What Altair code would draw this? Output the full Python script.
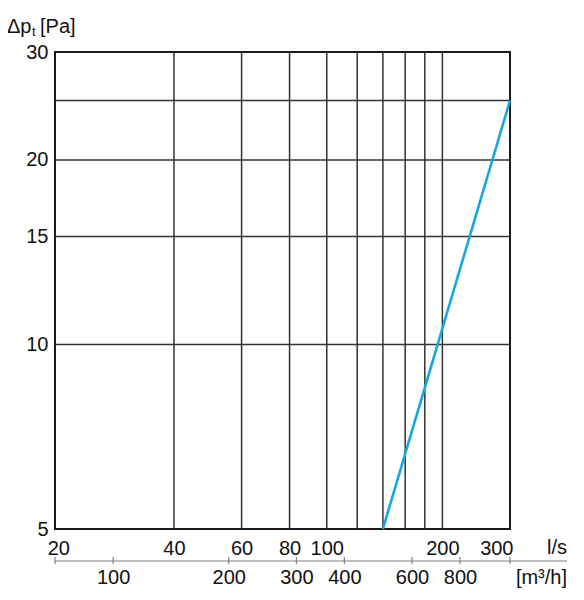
import altair as alt
import pandas as pd

# ---- data ----
ls_labels = [20, 40, 60, 80, 100, 200, 300]          # l/s axis labels
m3h_labels = [100, 200, 300, 400, 600, 800]          # m3/h axis labels
grid_x = [40, 60, 80, 100, 120, 140, 160, 180, 200]  # vertical grid lines (l/s)
grid_y = [10, 15, 20, 25]                            # horizontal grid lines (Pa)
y_labels = [5, 10, 15, 20, 30]                       # Pa axis labels
curve_flow = [140, 300]                              # l/s
curve_dp = [5, 25]                                   # Pa

x_dom = [19.6, 300]
y_dom = [5, 30]
m3h_dom = [x_dom[0] * 3.6, x_dom[1] * 3.6]
m3h_marks = [m3h_dom[0]] + m3h_labels + [m3h_dom[1]]

W, H = 455, 477
FONT = "Liberation Sans Narrow, Arial Narrow, Liberation Sans, sans-serif"
FS = 20
GRID = "#333333"

xs = alt.Scale(type="log", domain=x_dom, nice=False, zero=False)
ys = alt.Scale(type="log", domain=y_dom, nice=False, zero=False)
ms = alt.Scale(type="log", domain=m3h_dom, nice=False, zero=False)

y_axis = alt.Axis(
    values=y_labels, ticks=False, domain=False, grid=False,
    labelPadding=7, labelOverlap=False, labelFontSize=FS, labelFont=FONT,
    labelColor="#111", title=None,
)

vgrid = alt.Chart(pd.DataFrame({"q": grid_x})).mark_rule(
    color=GRID, strokeWidth=1.5
).encode(x=alt.X("q:Q", scale=xs, axis=None))

hgrid = alt.Chart(pd.DataFrame({"dp": grid_y})).mark_rule(
    color=GRID, strokeWidth=1.5
).encode(y=alt.Y("dp:Q", scale=ys, axis=y_axis))

curve = alt.Chart(pd.DataFrame({"flow": curve_flow, "dp": curve_dp})).mark_line(
    color="#17a6e3", strokeWidth=2.6
).encode(
    x=alt.X(
        "flow:Q",
        scale=xs,
        axis=alt.Axis(
            orient="bottom", values=ls_labels, ticks=False, domain=False, grid=False,
            labelFlush=True, labelFlushOffset=3, labelPadding=9, labelOverlap=False,
            labelFontSize=FS, labelFont=FONT, labelColor="#111", title=None,
        ),
    ),
    y=alt.Y("dp:Q", scale=ys, axis=y_axis),
)

m3h_ticks = alt.Chart(pd.DataFrame({"m": m3h_marks})).mark_rule(
    color="#808080", strokeWidth=1.2
).encode(
    x=alt.X(
        "m:Q",
        scale=ms,
        axis=alt.Axis(
            orient="bottom", values=m3h_labels, ticks=False, domain=False, grid=False,
            offset=28, labelPadding=10, labelOverlap=False, labelFlush=False,
            labelFontSize=FS, labelFont=FONT, labelColor="#111", title=None,
        ),
    ),
    y=alt.value(H + 28),
    y2=alt.value(H + 35),
)

m3h_line = alt.Chart(pd.DataFrame({"d": [0]})).mark_rule(
    color="#808080", strokeWidth=1.2
).encode(x=alt.value(0), x2=alt.value(512), y=alt.value(H + 32))


def txt(s, x, y, size=FS, align="left", baseline="alphabetic"):
    return alt.Chart(pd.DataFrame({"s": [s]})).mark_text(
        align=align, baseline=baseline, fontSize=size, font=FONT, color="#111"
    ).encode(text="s:N", x=alt.value(x), y=alt.value(y))


t_ls = txt("l/s", 512, 496, align="right", baseline="middle")
t_m3h = txt("[m³/h]", 512, 526, align="right", baseline="middle")
t_dp = txt("Δp", -48, -19, size=20)
t_sub = txt("t", -23, -16, size=13)
t_pa = txt("[Pa]", -15, -19, size=20)

chart = alt.layer(
    vgrid, hgrid, curve, m3h_ticks, m3h_line, t_ls, t_m3h, t_dp, t_sub, t_pa
).resolve_scale(x="independent").properties(
    width=W,
    height=H,
    autosize=alt.AutoSizeParams(type="none"),
    padding={"left": 47, "top": 44, "right": 66, "bottom": 63},
).configure(
    font=FONT,
    view=alt.ViewConfig(stroke="#1a1a1a", strokeWidth=2),
)

chart.save("out.html", embed_options={"renderer": "svg", "actions": False})
